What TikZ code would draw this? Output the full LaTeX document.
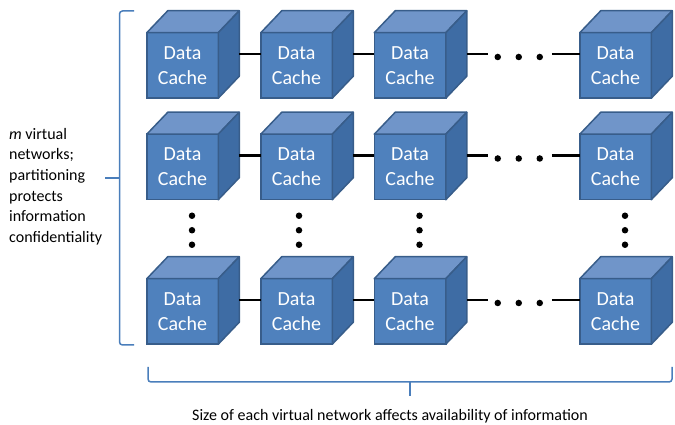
\documentclass[tikz,border=0pt]{standalone}
\usepackage{fontspec}
\setmainfont{Carlito}
\usepackage{tikz}

\definecolor{cachefront}{HTML}{4F81BD}
\definecolor{cachetop}{HTML}{7095C9}
\definecolor{cacheside}{HTML}{3E6CA4}
\definecolor{cacheedge}{HTML}{385D8A}
\definecolor{bracecol}{HTML}{4A7EBB}

\tikzset{
    cache/.style={rectangle, fill=cachefront, draw=cacheedge, line width=1.5pt, minimum width=71.5pt, minimum height=65.5pt, inner sep=0pt, outer sep=0pt, text=white, align=center, font=\fontsize{20}{25}\selectfont},
    face/.style={draw=cacheedge, line width=1.5pt, line join=round},
    link/.style={line width=2.6pt, black},
    brace/.style={bracecol, line width=1.5pt, rounded corners=3pt},
    dot/.style={circle, fill=black, inner sep=0pt, minimum size=6.5pt}
}

\begin{document}
\begin{tikzpicture}[x=1pt, y=1pt]
    % Fix the page size
    \useasboundingbox (0,0) rectangle (675,425);

    % Draw the grid of data caches
    \foreach \row/\y in {1/359.5, 2/258, 3/113.5}
        \foreach \col/\x in {1/182.5, 2/296.5, 3/410, 4/615.5} {
            \node[cache] (C\row\col) at (\x,\y) {Data\\Cache};
            \filldraw[face, fill=cachetop] (C\row\col.north west) -- ++(21,22) -- ([shift={(21,22)}]C\row\col.north east) -- (C\row\col.north east) -- cycle;
            \filldraw[face, fill=cacheside] (C\row\col.north east) -- ([shift={(21,22)}]C\row\col.north east) -- ([shift={(21,22)}]C\row\col.south east) -- (C\row\col.south east) -- cycle;
        }

    % Connect neighbouring caches in each network
    \foreach \row in {1,2,3} {
        \draw[link] ([shift={(21,11.5)}]C\row1.east) -- ([yshift=11.5]C\row2.west);
        \draw[link] ([shift={(21,11.5)}]C\row2.east) -- ([yshift=11.5]C\row3.west);
        \coordinate (L\row) at ([shift={(42,11.5)}]C\row3.east);
        \coordinate (R\row) at ([shift={(-28,11.5)}]C\row4.west);
        \draw[link] ([shift={(21,11.5)}]C\row3.east) -- (L\row);
        \draw[link] (R\row) -- ([yshift=11.5]C\row4.west);
        \foreach \k in {0,1,2}
            \node[dot] (h\row\k) at ([shift={(52+21*\k,8.5)}]C\row3.east) {};
    }

    % Dots between the second and last network
    \foreach \col/\dx in {1/9.5, 2/2.5, 3/9.5, 4/9.5}
        \foreach \k in {0,1,2}
            \node[dot] (v\col\k) at ([shift={(\dx,-16-14.5*\k)}]C2\col.south) {};

    % Brace for the number of networks
    \draw[brace] (134,414) -- (119.5,414) -- (119.5,80) -- (134,80);
    \draw[brace] (119.5,247) -- (105,247);
    \node[font=\fontsize{16}{20.6}\selectfont, align=left, anchor=west, inner sep=0pt] (netlabel) at (9,238.5)
        {\textit{m} virtual\\networks;\\partitioning\\protects\\information\\confidentiality};

    % Brace for the size of each network
    \draw[brace] (148,58) -- (148,43) -- (672,43) -- (672,58);
    \draw[brace] (410,43) -- (410,29);
    \node[font=\fontsize{16}{19}\selectfont, inner sep=0pt] (sizelabel) at (390,9)
        {Size of each virtual network affects availability of information};
\end{tikzpicture}
\end{document}
